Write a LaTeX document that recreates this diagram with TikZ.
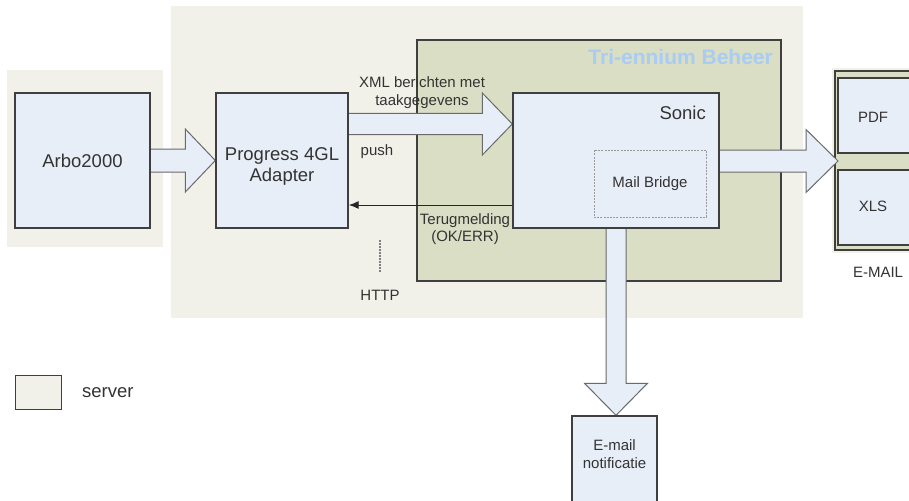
\documentclass[tikz,border=0pt]{standalone}
\usepackage{fontspec}
\setmainfont{Liberation Sans}
\usetikzlibrary{calc,arrows.meta}
\definecolor{srv}{HTML}{F1F1EA}
\definecolor{trioliv}{HTML}{D9DEC5}
\definecolor{boxfill}{HTML}{E8EEF8}
\definecolor{bord}{HTML}{3F3F3F}
\definecolor{titleblue}{HTML}{A8CCF4}
\definecolor{txt}{HTML}{333333}
\definecolor{arrline}{HTML}{6A6A6A}
\newcommand\fbig{\fontsize{18.5}{22}\selectfont}
\newcommand\fsml{\fontsize{15}{18.5}\selectfont}
% horizontal block arrow: from #1 to #2, shaft half #3, head half #4, head length #5
\newcommand\harr[5]{\path[blk] ($(#1)+(0,-#3)$) -- ($(#2)+(-#5,-#3)$) -- ($(#2)+(-#5,-#4)$) -- (#2) -- ($(#2)+(-#5,#4)$) -- ($(#2)+(-#5,#3)$) -- ($(#1)+(0,#3)$);}
% vertical (downward) block arrow
\newcommand\varr[5]{\path[blk] ($(#1)+(-#3,0)$) -- ($(#2)+(-#3,-#5)$) -- ($(#2)+(-#4,-#5)$) -- (#2) -- ($(#2)+(#4,-#5)$) -- ($(#2)+(#3,-#5)$) -- ($(#1)+(#3,0)$);}
\begin{document}
\begin{tikzpicture}[x=1pt,y=-1pt,
  srvbox/.style={fill=srv, draw=none, inner sep=0pt},
  tribox/.style={fill=trioliv, draw=bord, line width=1.4pt, inner sep=0pt},
  box/.style={draw=bord, line width=1.4pt, fill=boxfill, inner sep=0pt, text=txt, align=center, font=\fbig},
  lbl/.style={text=txt, align=center, font=\fsml, inner sep=0pt},
  lblbig/.style={text=txt, align=center, font=\fbig, inner sep=0pt},
  blk/.style={fill=boxfill, draw=arrline, line width=1pt, line join=miter},
  ]
\useasboundingbox (0,0) rectangle (909,500);
\clip (0,0) rectangle (909,500);
\fill[white] (0,0) rectangle (909,500);

% server areas
\node[srvbox, minimum width=156pt, minimum height=177pt] (srvL) at (85,158.5) {};
\node[srvbox, minimum width=632pt, minimum height=312pt] (srvB) at (487,162) {};
\node[tribox, minimum width=364pt, minimum height=241pt] (tri) at (599,160.5) {};
\node[anchor=east, text=titleblue, font=\fontsize{21}{24}\selectfont\bfseries, inner sep=0pt] (triT) at (773,57) {Tri-ennium Beheer};

% main boxes (coordinates needed for arrows)
\node[box, minimum width=135pt, minimum height=135pt] (arbo) at (82.5,160.5) {Arbo2000};
\node[box, minimum width=132pt, minimum height=135pt] (prog) at (282,160.5) {};
\node[box, minimum width=206pt, minimum height=135pt] (sonic) at (616,160.5) {};
\node[draw=bord, line width=3pt, fill=trioliv, minimum width=91pt, minimum height=180pt, inner sep=0pt] (email) at (880,160.5) {};
\draw[srv, line width=1.1pt] (email.south west) rectangle (email.north east);
\node[box, minimum width=85pt, minimum height=114pt] (notif) at (614.5,473) {};

% block arrows
\coordinate (a1s) at (arbo.east);
\coordinate (a1e) at (prog.west);
\harr{a1s}{a1e}{11.5}{31.5}{30}
\coordinate (a2s) at ($(prog.east)+(0,-36.5)$);
\coordinate (a2e) at ($(sonic.west)+(0,-36.5)$);
\harr{a2s}{a2e}{10.5}{31}{30}
\coordinate (a3s) at ($(sonic.east)+(0,0.5)$);
\coordinate (a3e) at ($(email.west)+(5,0.5)$);
\harr{a3s}{a3e}{11}{31.5}{32}
\coordinate (a4s) at (sonic.south);
\coordinate (a4e) at (sonic.south |- notif.north);
\varr{a4s}{a4e}{10}{31.5}{32}

% redraw boxes on top of arrow ends
\node[box, minimum width=135pt, minimum height=135pt] (arbo2) at (arbo) {Arbo2000};
\node[box, minimum width=132pt, minimum height=135pt] (prog2) at (prog) {};
\node[lblbig] (progT) at (282,166) {Progress 4GL\\[-1pt]Adapter};
\node[box, minimum width=206pt, minimum height=135pt] (sonic2) at (sonic) {};
\node[anchor=east, text=txt, font=\fbig, inner sep=0pt] (sonicT) at (706,113) {Sonic};
\node[draw=gray!80, dash pattern=on 2pt off 1.2pt, line width=0.9pt, minimum width=112pt, minimum height=67pt, inner sep=0pt, text=txt, font=\fsml] (mb) at (650,183.5) {Mail Bridge};
\node[box, minimum width=82pt, minimum height=75pt] (pdf) at (879,115.5) {};
\node[box, minimum width=82pt, minimum height=75pt] (xls) at (879,207.5) {};
\node[lbl] (pdfT) at (873,117) {PDF};
\node[lbl] (xlsT) at (873,206) {XLS};
\node[lbl] (emailT) at (878,272) {E-MAIL};
\node[box, minimum width=85pt, minimum height=114pt] (notif2) at (notif) {};
\node[lbl] (notifT) at (614.5,454) {E-mail\\[-1pt]notificatie};

% return arrow
\coordinate (r1) at ($(sonic.west)+(0,44.5)$);
\draw[-{Latex[length=10pt,width=8pt]}, line width=1pt, color=black!85] (r1) -- (r1 -| prog.east);

% labels
\node[lbl] (xmlT) at (422,92.5) {XML berichten met\\[0pt]taakgegevens};
\node[lbl] (pushT) at (377,152) {push};
\node[lbl] (terT) at (465,229) {Terugmelding\\[-1pt](OK/ERR)};
\coordinate (h1) at (380,240);
\coordinate (h2) at (380,272);
\draw[gray, line width=1.2pt, dash pattern=on 2pt off 1pt] (h1) -- (h2);
\node[lbl] (httpT) at (380,295) {HTTP};

% legend
\node[draw=bord, line width=1pt, fill=srv, minimum width=46pt, minimum height=34pt, inner sep=0pt] (leg) at (38,392) {};
\node[anchor=west, text=txt, font=\fbig, inner sep=0pt] (legT) at (82,393) {server};
\end{tikzpicture}
\end{document}
